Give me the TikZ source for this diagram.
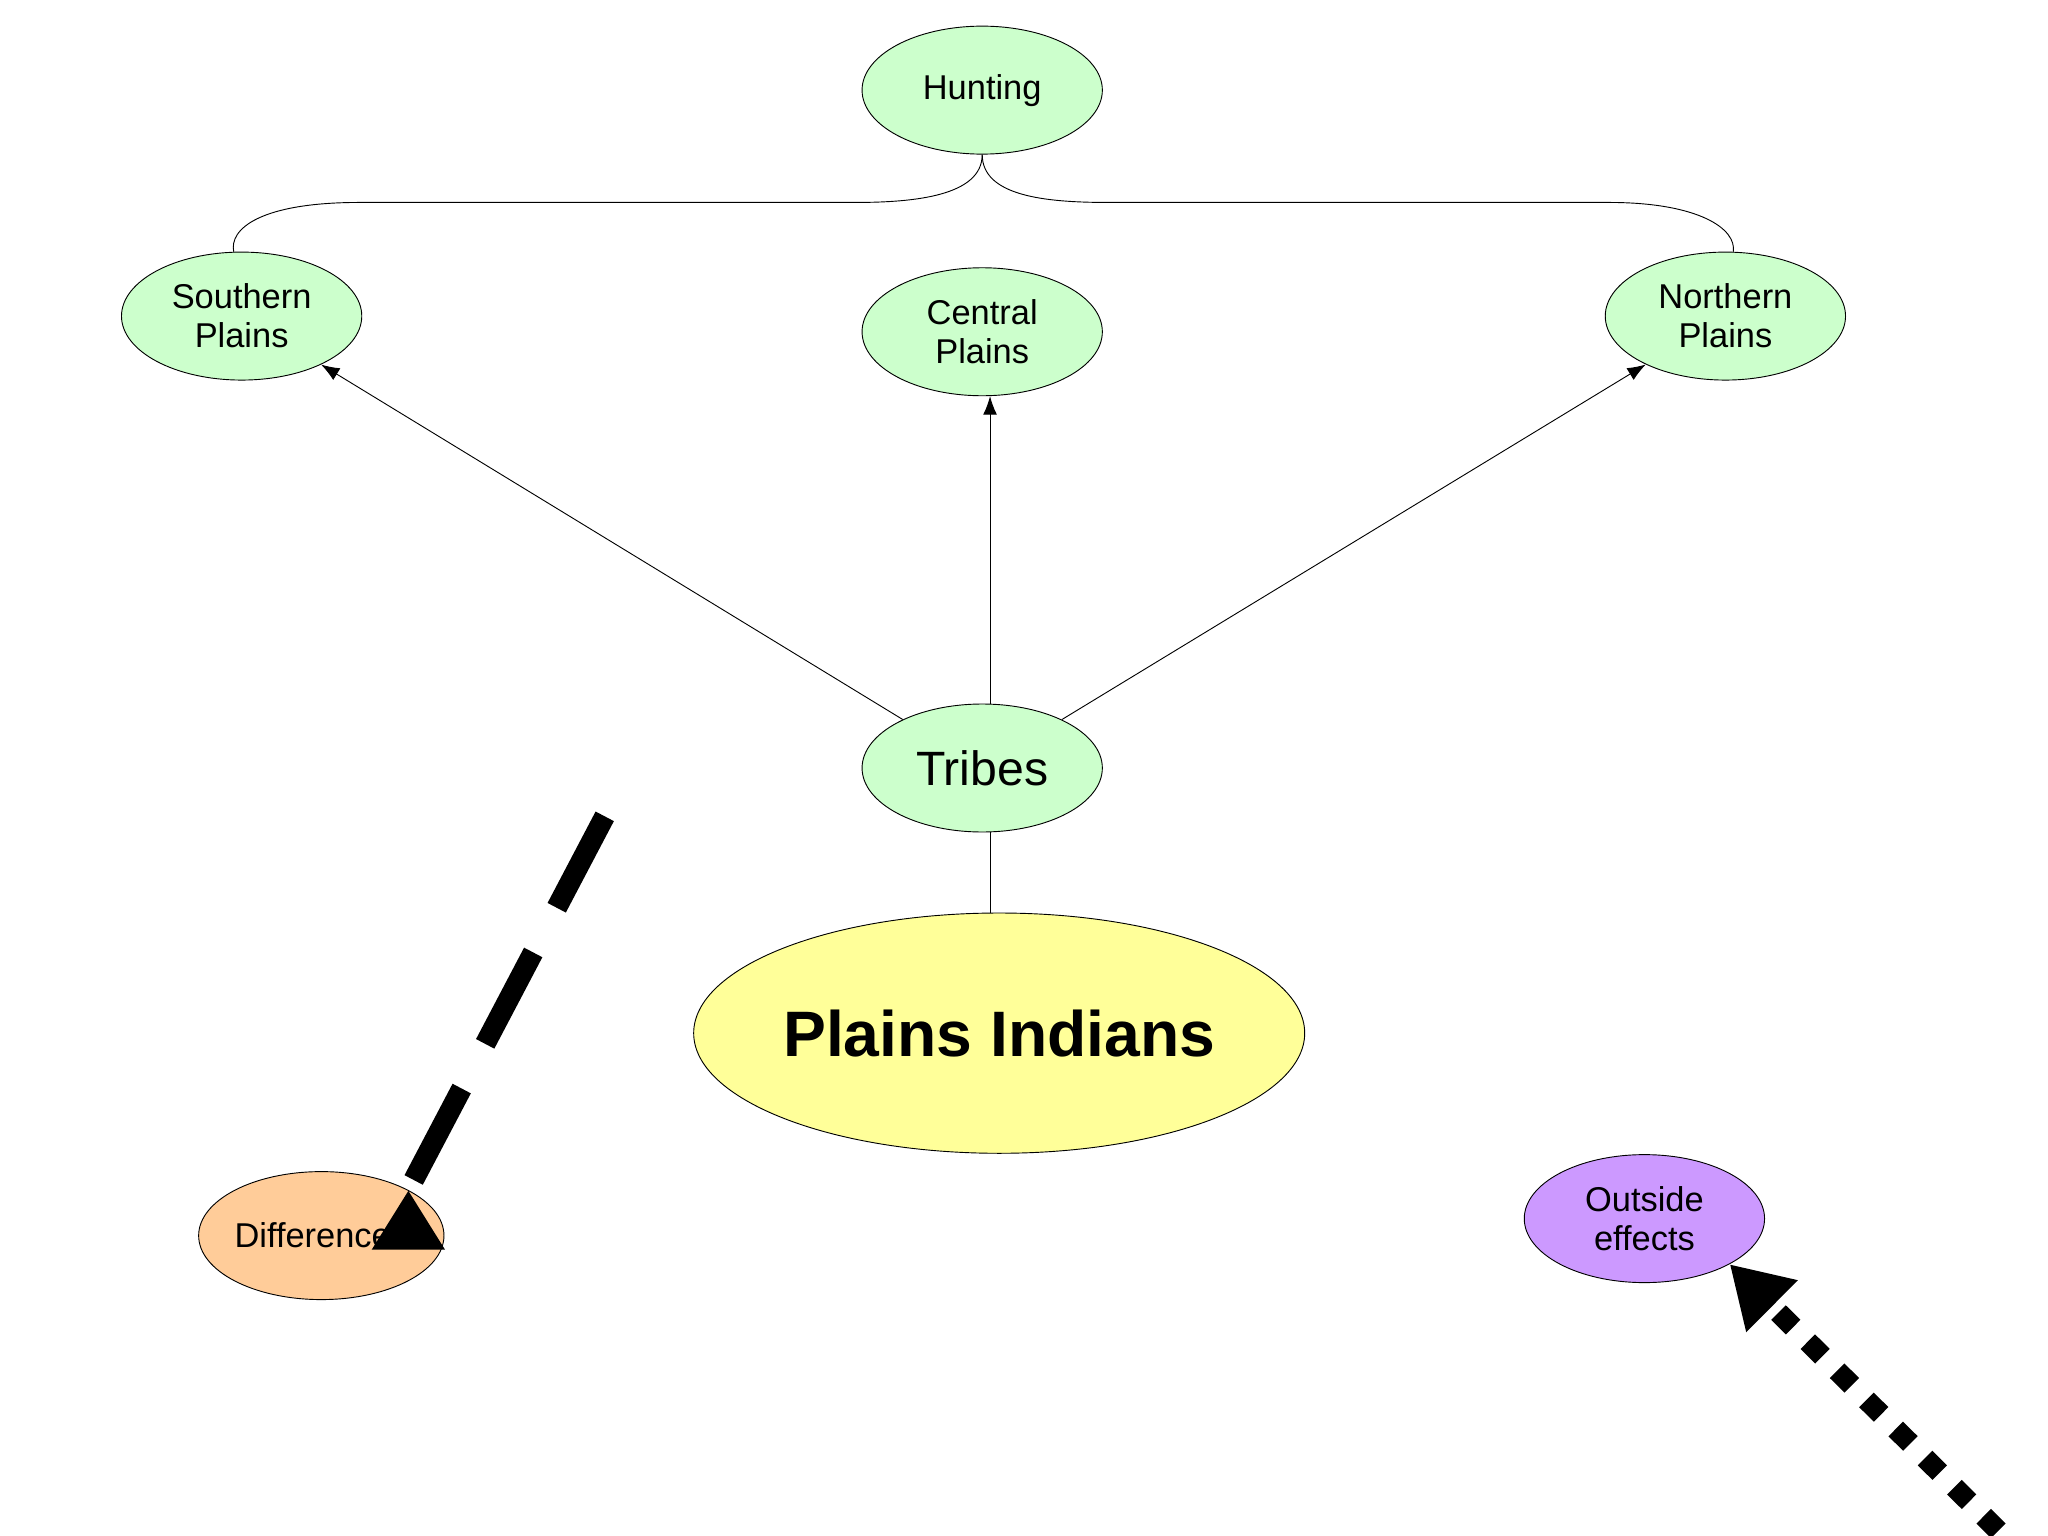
\documentclass[tikz,border=0pt]{standalone}
\usepackage{fontspec}
\setmainfont{Liberation Sans}
\usetikzlibrary{arrows.meta,positioning,shapes.geometric}
\definecolor{cmgreen}{RGB}{204,255,204}
\definecolor{cmyellow}{RGB}{255,255,153}
\definecolor{cmorange}{RGB}{255,204,153}
\definecolor{cmpurple}{RGB}{204,153,255}
\tikzset{
  concept/.style={ellipse,draw,thin,fill=cmgreen,minimum width=3.68cm,minimum height=1.96cm,inner sep=0pt,align=center,font=\fontsize{15}{17}\selectfont},
  link/.style={thin,-{Latex[length=8pt,width=6pt]}},
}
\begin{document}
\begin{tikzpicture}[x=0.02cm,y=-0.02cm]
    \useasboundingbox (0,0) rectangle (1568,1176);
    % Concepts
    \node[concept] (hunting) at (752,69) {Hunting};
    \node[concept] (southern) at (185,242) {Southern\\Plains};
    \node[concept] (central) at (752,254) {Central\\Plains};
    \node[concept] (northern) at (1321,242) {Northern\\Plains};
    \node[concept,font=\fontsize{21}{24}\selectfont] (tribes) at (752,588) {Tribes};
    \node[concept,fill=cmyellow,minimum width=8.12cm,minimum height=3.68cm,font=\fontsize{28}{32}\selectfont\bfseries] (plains) at (765,791) {Plains Indians};
    \node[concept,fill=cmorange] (diff) at (246,946) {Differences};
    \node[concept,fill=cmpurple] (outside) at (1259,933) {Outside\\effects};

    % Hunting links
    \draw[thin] (hunting.south) .. controls (752,150) and (700,155) .. (655,155) -- (275,155) .. controls (200,155) and (175,175) .. (179,193);
    \draw[thin] (hunting.south) .. controls (752,150) and (800,155) .. (848,155) -- (1232,155) .. controls (1300,155) and (1330,175) .. (1327,193);

    % Tribes links
    \draw[link] (tribes) -- (southern);
    \draw[link] (tribes.north) ++(6,0) -- (central.south -| 758,0);
    \draw[link] (tribes) -- (northern);
    \draw[thin] (758,637) -- (plains.north -| 758,0);

    % Free arrows
    \coordinate (dstart) at (463,625);
    \coordinate (ostart) at (1530,1172);
    \draw[line width=9pt,dash pattern=on 45pt off 22pt,-{Triangle[length=26pt,width=30pt]}] (dstart) -- (diff.north east) ++(0,0);
    \draw[line width=9pt,dash pattern=on 9pt off 9pt,-{Triangle[length=26pt,width=30pt]}] (ostart) -- (outside.south east);
\end{tikzpicture}
\end{document}
